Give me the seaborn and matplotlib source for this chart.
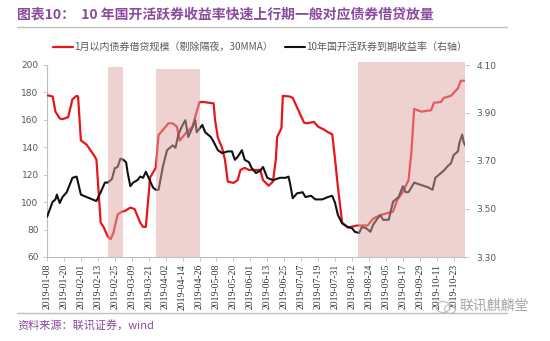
import matplotlib
matplotlib.use("Agg")
import matplotlib.pyplot as plt
import matplotlib.dates as mdates
from matplotlib.lines import Line2D
from matplotlib.patches import Ellipse
import seaborn as sns
import pandas as pd
import numpy as np

# 1-month bond lending volume (ex overnight, 30-day moving average), left axis
lend_dates = [
    "2019-01-08", "2019-01-12", "2019-01-14", "2019-01-17", "2019-01-19", "2019-01-23",
    "2019-01-26", "2019-01-29", "2019-01-30", "2019-02-01", "2019-02-05", "2019-02-11",
    "2019-02-12", "2019-02-15", "2019-02-17", "2019-02-20", "2019-02-22", "2019-02-24",
    "2019-02-27", "2019-03-02", "2019-03-04", "2019-03-08", "2019-03-11", "2019-03-15",
    "2019-03-17", "2019-03-19", "2019-03-22", "2019-03-26", "2019-03-28", "2019-03-31",
    "2019-04-04", "2019-04-07", "2019-04-10", "2019-04-12", "2019-04-16", "2019-04-21",
    "2019-04-24", "2019-04-26", "2019-04-29", "2019-05-06", "2019-05-07", "2019-05-09",
    "2019-05-12", "2019-05-14", "2019-05-16", "2019-05-20", "2019-05-23", "2019-05-25",
    "2019-05-28", "2019-05-31", "2019-06-08", "2019-06-10", "2019-06-14", "2019-06-17",
    "2019-06-19", "2019-06-20", "2019-06-23", "2019-06-24", "2019-06-29", "2019-07-01",
    "2019-07-05", "2019-07-09", "2019-07-11", "2019-07-16", "2019-07-19", "2019-07-23",
    "2019-07-26", "2019-07-29", "2019-07-31", "2019-08-02", "2019-08-05", "2019-08-09",
    "2019-08-16", "2019-08-23", "2019-08-27", "2019-09-01", "2019-09-06", "2019-09-10",
    "2019-09-13", "2019-09-17", "2019-09-21", "2019-09-23", "2019-09-25", "2019-09-30",
    "2019-10-07", "2019-10-09", "2019-10-14", "2019-10-16", "2019-10-21", "2019-10-26",
    "2019-10-28", "2019-10-31",
]
lend_values = [
    178, 177, 166, 161, 160.5, 162,
    175, 177.5, 177, 145, 142, 133,
    131, 85, 82, 75, 73, 77.5,
    91, 93, 93.5, 96, 95, 85,
    82, 82, 118, 125, 149, 152.5,
    157.5, 157.5, 155, 145, 150, 155,
    166, 173, 173, 172, 160, 147,
    139.5, 131, 115, 114, 116, 123.5,
    125, 123.5, 123.5, 116, 112, 115,
    131, 147.5, 154, 177.5, 177, 176,
    167, 158, 157.5, 158.5, 155, 153,
    151, 149.5, 131, 111, 85, 81.5,
    83, 83, 88, 90.5, 92, 93,
    101.5, 107.5, 116, 136, 168, 166,
    167, 172.5, 173, 176, 177.5, 183,
    188.5, 188.5,
]

# 10Y CDB on-the-run bond yield to maturity, right axis
yield_dates = [
    "2019-01-08", "2019-01-12", "2019-01-14", "2019-01-15", "2019-01-17", "2019-01-19",
    "2019-01-22", "2019-01-26", "2019-01-29", "2019-01-30", "2019-02-01", "2019-02-05",
    "2019-02-12", "2019-02-15", "2019-02-18", "2019-02-20", "2019-02-23", "2019-02-25",
    "2019-02-27", "2019-03-01", "2019-03-03", "2019-03-05", "2019-03-06", "2019-03-08",
    "2019-03-10", "2019-03-13", "2019-03-15", "2019-03-17", "2019-03-19", "2019-03-21",
    "2019-03-24", "2019-03-26", "2019-03-28", "2019-03-31", "2019-04-03", "2019-04-07",
    "2019-04-09", "2019-04-11", "2019-04-14", "2019-04-16", "2019-04-18", "2019-04-21",
    "2019-04-23", "2019-04-24", "2019-04-28", "2019-04-30", "2019-05-04", "2019-05-06",
    "2019-05-09", "2019-05-12", "2019-05-16", "2019-05-19", "2019-05-21", "2019-05-23",
    "2019-05-26", "2019-05-28", "2019-05-31", "2019-06-02", "2019-06-05", "2019-06-08",
    "2019-06-10", "2019-06-13", "2019-06-17", "2019-06-22", "2019-06-26", "2019-06-28",
    "2019-06-29", "2019-07-01", "2019-07-04", "2019-07-08", "2019-07-10", "2019-07-14",
    "2019-07-17", "2019-07-22", "2019-07-26", "2019-07-29", "2019-07-31", "2019-08-02",
    "2019-08-05", "2019-08-09", "2019-08-12", "2019-08-14", "2019-08-17", "2019-08-19",
    "2019-08-22", "2019-08-25", "2019-08-27", "2019-08-30", "2019-09-01", "2019-09-03",
    "2019-09-07", "2019-09-10", "2019-09-14", "2019-09-17", "2019-09-19", "2019-09-21",
    "2019-09-25", "2019-09-30", "2019-10-05", "2019-10-08", "2019-10-10", "2019-10-14",
    "2019-10-16", "2019-10-19", "2019-10-21", "2019-10-23", "2019-10-26", "2019-10-27",
    "2019-10-29", "2019-10-30", "2019-10-31",
]
yield_values = [
    3.467, 3.53, 3.54, 3.56, 3.525, 3.55,
    3.57, 3.63, 3.635, 3.61, 3.56, 3.55,
    3.533, 3.57, 3.61, 3.61, 3.625, 3.67,
    3.675, 3.71, 3.705, 3.695, 3.655, 3.595,
    3.61, 3.62, 3.635, 3.63, 3.655, 3.63,
    3.59, 3.58, 3.58, 3.675, 3.745, 3.765,
    3.755, 3.81, 3.85, 3.87, 3.80, 3.84,
    3.87, 3.82, 3.85, 3.82, 3.80, 3.78,
    3.745, 3.733, 3.74, 3.74, 3.705, 3.717,
    3.745, 3.705, 3.695, 3.67, 3.65, 3.66,
    3.675, 3.63, 3.62, 3.63, 3.63, 3.635,
    3.61, 3.545, 3.565, 3.57, 3.55, 3.555,
    3.54, 3.54, 3.55, 3.555, 3.525, 3.475,
    3.44, 3.425, 3.42, 3.405, 3.40, 3.425,
    3.42, 3.405, 3.435, 3.46, 3.475, 3.455,
    3.455, 3.53, 3.55, 3.595, 3.57, 3.57,
    3.61, 3.60, 3.59, 3.58, 3.63, 3.65,
    3.66, 3.68, 3.69, 3.725, 3.74, 3.775,
    3.81, 3.78, 3.765,
]

# Periods of rapid yield increase
shade_periods = [("2019-02-20", "2019-03-03"), ("2019-03-26", "2019-04-26"), ("2019-08-16", "2019-10-31")]
shade_tops = [0.99, 0.98, 1.015]

left_ticks = [60, 80, 100, 120, 140, 160, 180, 200]
right_ticks = [3.30, 3.50, 3.70, 3.90, 4.10]

title_text = "图表10：  10 年国开活跃券收益率快速上行期一般对应债券借贷放量"
legend_lend = "1月以内债券借贷规模（剔除隔夜，30MMA）"
legend_yield = "10年国开活跃券到期收益率（右轴）"
source_text = "资料来源：联讯证券，wind"
brand_text = "联讯麒麟堂"

sns.set_style("white")
plt.rcParams["font.family"] = ["Noto Sans CJK SC", "DejaVu Sans"]

lend = pd.DataFrame({"date": pd.to_datetime(lend_dates), "value": lend_values})
yld = pd.DataFrame({"date": pd.to_datetime(yield_dates), "value": yield_values})

fig = plt.figure(figsize=(5.5, 3.41), dpi=100)
ax = fig.add_axes([47 / 550, 1 - 257 / 341, (465 - 47) / 550, (257 - 65) / 341])
ax2 = ax.twinx()

red = "#E8161B"
sns.lineplot(data=lend, x="date", y="value", ax=ax, color=red, linewidth=1.6, zorder=3)
sns.lineplot(data=yld, x="date", y="value", ax=ax2, color="#111111", linewidth=1.5, zorder=3)

# translucent bands drawn over the lines
for (s, e), top in zip(shade_periods, shade_tops):
    ax2.axvspan(pd.Timestamp(s), pd.Timestamp(e), ymin=0, ymax=top,
                color="#DEA5A5", alpha=0.5, lw=0, zorder=5, clip_on=False)

ax.set_ylim(60, 200)
ax2.set_ylim(3.30, 4.10)
ax.set_xlim(pd.Timestamp("2019-01-08"), pd.Timestamp("2019-10-31"))
ax.set_yticks(left_ticks)
ax2.set_yticks(right_ticks)
ax2.set_yticklabels([f"{v:.2f}" for v in right_ticks])

xt = pd.date_range("2019-01-08", "2019-10-23", freq="12D")
ax.set_xticks(xt)
ax.set_xticklabels([d.strftime("%Y-%m-%d") for d in xt], rotation=90,
                   family="Liberation Serif", fontsize=7, color="#333333")
ax.set_xlabel("")
ax.set_ylabel("")
ax2.set_ylabel("")

tick_col = "#595959"
for a in (ax, ax2):
    for sp in a.spines.values():
        sp.set_visible(False)
ax.spines["left"].set_visible(True)
ax.spines["bottom"].set_visible(True)
ax.spines["left"].set_color("#BFBFBF")
ax.spines["bottom"].set_color("#BFBFBF")
ax.spines["left"].set_linewidth(0.8)
ax.spines["bottom"].set_linewidth(0.8)

ax.tick_params(axis="y", left=True, length=3, width=0.6, color="#BFBFBF",
               labelsize=6.5, labelcolor=tick_col, pad=3)
ax.tick_params(axis="x", bottom=True, length=3, width=0.6, color="#BFBFBF", pad=2)
ax2.tick_params(axis="y", right=True, length=3, width=0.6, color="#BFBFBF",
                labelsize=6.5, labelcolor=tick_col, pad=5)
for lab in ax.get_yticklabels() + ax2.get_yticklabels():
    lab.set_family("DejaVu Sans")

ax.grid(False)
ax2.grid(False)

handles = [Line2D([], [], color=red, lw=1.6), Line2D([], [], color="#111111", lw=1.5)]
fig.legend(handles, [legend_lend, legend_yield], ncol=2, loc="center left",
           bbox_to_anchor=(44 / 550, 1 - 47 / 341), frameon=False, fontsize=7.2,
           handlelength=2.0, handletextpad=0.1, columnspacing=1.2, labelcolor="#595959")

purple = "#8A4A9E"
fig.text(17 / 550, 1 - 15 / 341, title_text, fontsize=10, fontweight="bold",
         color=purple, va="center", ha="left")
fig.add_artist(Line2D([17 / 550, 507 / 550], [1 - 27 / 341] * 2, color="#BFBFBF", lw=1.0))
fig.add_artist(Line2D([17 / 550, 507 / 550], [1 - 313 / 341] * 2, color="#BFBFBF", lw=1.0))
fig.text(17 / 550, 1 - 326 / 341, source_text, fontsize=8, style="italic",
         color=purple, va="center", ha="left")

# account badge in the lower right
fig.add_artist(Ellipse((443 / 550, 1 - 307 / 341), 14 / 550, 11 / 341,
                       fill=False, ec="#BDBDBD", lw=0.8))
fig.add_artist(Ellipse((450 / 550, 1 - 309 / 341), 11 / 550, 9 / 341,
                       fill=False, ec="#BDBDBD", lw=0.8))
fig.text(459 / 550, 1 - 306 / 341, brand_text, fontsize=10, color="#A6A6A6",
         va="center", ha="left")

fig.savefig("out.png", dpi=100, facecolor="white")
